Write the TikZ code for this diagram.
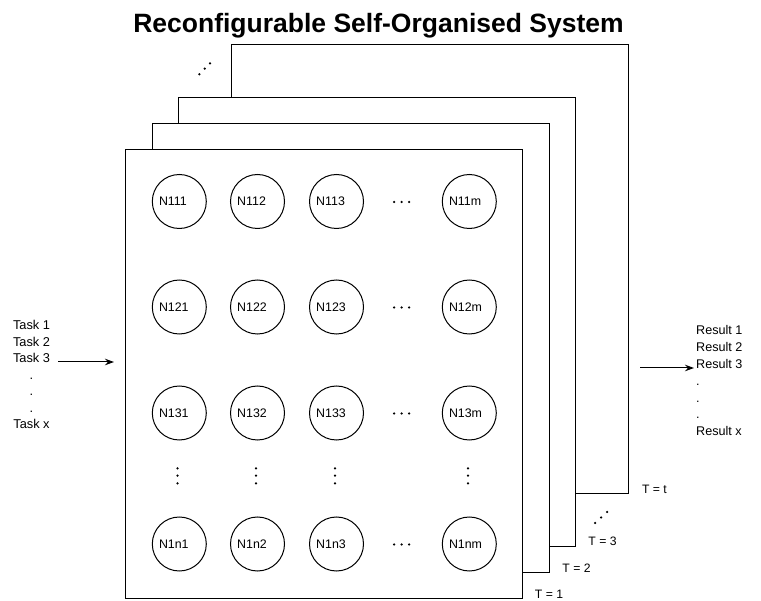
\documentclass[tikz,border=0pt]{standalone}
\usepackage{fontspec}
\setmainfont{Liberation Sans}
\usetikzlibrary{arrows.meta}
\begin{document}
\begin{tikzpicture}[x=1pt,y=-1pt,
  layer/.style={draw,fill=white,line width=1.1pt,minimum width=397pt,minimum height=449pt,anchor=north west,inner sep=0pt},
  unit/.style={draw,circle,line width=1pt,minimum size=54pt,inner sep=0pt},
  ulabel/.style={anchor=west,font=\fontsize{12.4}{14}\selectfont,inner sep=0pt},
  lbl/.style={font=\fontsize{12.2}{14}\selectfont,inner sep=0pt},
  dotmark/.style={circle,fill=black,inner sep=0pt,minimum size=2.5pt},
  flow/.style={line width=1pt,-{Stealth[length=9pt,width=6.5pt]}}]
\useasboundingbox (0,0) rectangle (761,601);

% title
\node[font=\fontsize{26.5}{30}\bfseries\selectfont,anchor=base,inner sep=0pt] (title) at (378.5,33) {Reconfigurable Self-Organised System};

% stacked layers, back to front
\node[layer] (f4) at (231,44.3) {};
\node[layer] (f3) at (178.3,97) {};
\node[layer] (f2) at (152,123.3) {};
\node[layer] (f1) at (125,149.3) {};

% ellipsis between the third and the last layer (top left)
\node[dotmark] (ua) at (199.3,74.3) {};
\node[dotmark] (ub) at (204.7,68.7) {};
\node[dotmark] (uc) at (210,63.3) {};

% ellipsis between the third and the last layer (bottom right)
\node[dotmark] (la) at (595,523) {};
\node[dotmark] (lb) at (601,517.5) {};
\node[dotmark] (lc) at (607,512) {};

% layer time labels
\node[lbl] (t1) at (549,594) {T = 1};
\node[lbl] (t2) at (576.5,568) {T = 2};
\node[lbl] (t3) at (602.5,541) {T = 3};
\node[lbl] (tt) at (654.5,489) {T = t};

% grid of units on the front layer
\foreach \r/\y in {1/201.5,2/307,3/413,n/544} {
  \foreach \c/\x in {1/179.3,2/257.5,3/336.5,m/469.3} {
    \node[unit] (n\r\c) at (\x,\y) {};
    \node[ulabel] (l\r\c) at ([xshift=-20.5pt]n\r\c.center) {N1\r\c};
  }
  % horizontal ellipsis in each row
  \node[dotmark] (h\r a) at (394,\y+0.5) {};
  \node[dotmark] (h\r b) at (401.5,\y+0.5) {};
  \node[dotmark] (h\r c) at (409,\y+0.5) {};
}

% vertical ellipsis in each column
\foreach \c/\x in {1/177.5,2/256,3/335,m/468} {
  \node[dotmark] (v\c a) at (\x,468.3) {};
  \node[dotmark] (v\c b) at (\x,475.7) {};
  \node[dotmark] (v\c c) at (\x,483.3) {};
}

% inputs
\node[anchor=north,align=center,inner sep=0pt,font=\fontsize{12.8}{16.5}\selectfont] (tasks) at (31.5,320.4)
  {Task 1\\Task 2\\Task 3\\.\\.\\.\\Task x};
\coordinate (inA) at (58,362);
\coordinate (inB) at (114,362);
\draw[flow] (inA) -- (inB);

% outputs
\node[anchor=north west,align=left,inner sep=0pt,font=\fontsize{12.6}{16.8}\selectfont] (results) at (696,325.5)
  {Result 1\\Result 2\\Result 3\\.\\.\\.\\Result x};
\coordinate (outA) at (640,368);
\coordinate (outB) at (694,368);
\draw[flow] (outA) -- (outB);
\end{tikzpicture}
\end{document}
